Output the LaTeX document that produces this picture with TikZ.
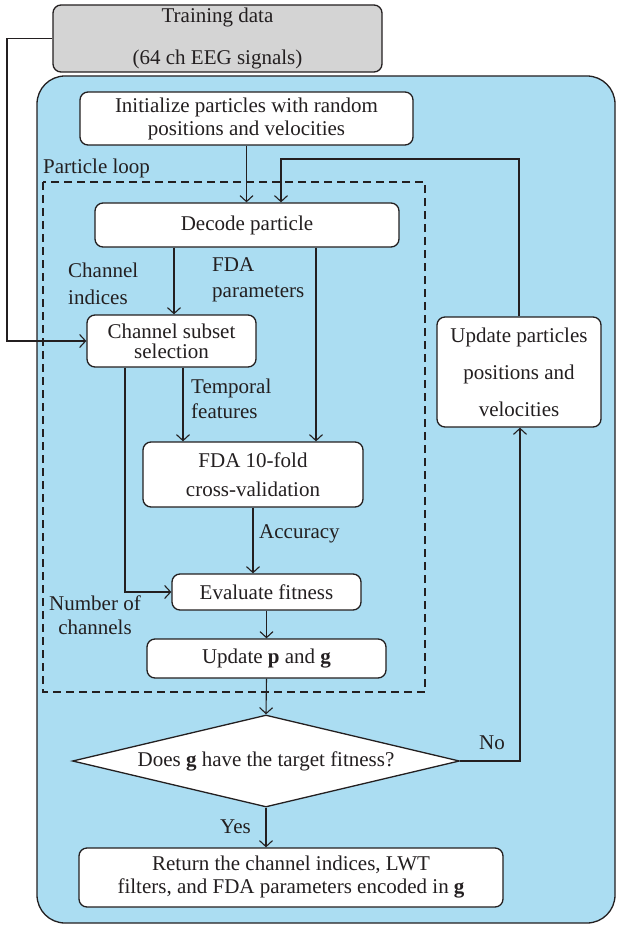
\documentclass[tikz,border=0pt]{standalone}
\usepackage{fontspec}
\setmainfont{Liberation Serif}
\usepackage{tikz}
\usetikzlibrary{arrows.meta,positioning,shapes.geometric,calc}
\definecolor{LoopBlue}{RGB}{171,221,242}
\definecolor{DataGray}{RGB}{212,212,212}
\definecolor{InkDark} {RGB}{ 35, 31, 32}

\begin{document}
\begin{tikzpicture}[x=1pt,y=-1pt,
    font=\fontsize{21}{23}\selectfont, text=InkDark,
    procbox/.style={draw=InkDark, line width=1.3pt, fill=white,
                    rounded corners=8pt, align=center, inner sep=0pt},
    flow/.style={draw=InkDark, line width=1.1pt,
                 -{Straight Barb[length=6pt,width=13pt]}},
    lbl/.style={align=left, inner sep=0pt}]
  \useasboundingbox (0,0) rectangle (616,925);
  % Outer search area
  \fill[LoopBlue, draw=InkDark, line width=1.3pt, rounded corners=28pt]
    (37,76) rectangle (615,923);
  % Particle loop frame
  \draw[InkDark, line width=1.1pt, dash pattern=on 8pt off 5pt]
    (43,182) rectangle (425,692);
  \node[lbl, anchor=west] (looplbl) at (43,168) {Particle loop};

  % Boxes
  \node[procbox, fill=DataGray, minimum width=329pt, minimum height=67pt,
        font=\fontsize{21}{42}\selectfont]
    (train) at (217.5,38.5) {Training data\\(64 ch EEG signals)};
  \node[procbox, minimum width=333pt, minimum height=53pt]
    (init) at (246.5,118.5) {Initialize particles with random\\positions and velocities};
  \node[procbox, minimum width=304pt, minimum height=44pt]
    (decode) at (247,225) {Decode particle};
  \node[procbox, minimum width=169pt, minimum height=52pt,
        font=\fontsize{21}{20}\selectfont]
    (chsel) at (171.5,341) {Channel subset\\selection};
  \node[procbox, minimum width=220pt, minimum height=65pt,
        font=\fontsize{21}{29}\selectfont]
    (fda) at (253,474.5) {FDA 10-fold\\cross-validation};
  \node[procbox, minimum width=189pt, minimum height=36pt]
    (evalf) at (266.5,592) {Evaluate fitness};
  \node[procbox, minimum width=239pt, minimum height=39pt]
    (upd) at (266.5,658.5) {Update \textbf{p} and \textbf{g}};
  \node[draw=InkDark, line width=1.3pt, fill=white, diamond, aspect=4.2,
        inner sep=0pt, minimum width=387pt, minimum height=92pt]
    (dec) at (266,761) {Does \textbf{g} have the target fitness?};
  \node[procbox, minimum width=424pt, minimum height=59pt]
    (ret) at (291,877.5) {Return the channel indices, LWT\\filters, and FDA parameters encoded in \textbf{g}};
  \node[procbox, minimum width=164pt, minimum height=110pt,
        font=\fontsize{21}{37}\selectfont]
    (updpos) at (519,372) {Update particles\\positions and\\velocities};

  % Labels
  \node[lbl, anchor=west, font=\fontsize{21}{27}\selectfont]
    (chidx) at (68,283.5) {Channel\\indices};
  \node[lbl, anchor=west, font=\fontsize{21}{26}\selectfont]
    (fdapar) at (212,280) {FDA\\parameters};
  \node[lbl, anchor=west, font=\fontsize{21}{25}\selectfont]
    (tempf) at (191,399) {Temporal\\features};
  \node[lbl, anchor=west] (acc) at (259,534) {Accuracy};
  \node[lbl, align=center, font=\fontsize{21}{24}\selectfont]
    (nch) at (95,615) {Number of\\channels};
  \node[lbl, anchor=east] (yes) at (251,827) {Yes};
  \node[lbl] (no) at (492,743) {No};

  % Connectors
  \coordinate (tl) at (7,38.5);
  \coordinate (fb) at (281,159);
  \draw[flow] (train.west) -- (tl) |- (chsel.west);
  \draw[flow] (init.south) -- (init.south |- decode.north);
  \draw[flow] (updpos.north) |- (fb) -- (fb |- decode.north);
  \draw[flow] ([xshift=-73pt]decode.south) -- ([xshift=-73pt]decode.south |- chsel.north);
  \draw[flow] ([xshift=69pt]decode.south) -- ([xshift=69pt]decode.south |- fda.north);
  \draw[flow] ([xshift=11.5pt]chsel.south) -- ([xshift=11.5pt]chsel.south |- fda.north);
  \draw[flow] ([xshift=-46.5pt]chsel.south) |- (evalf.west);
  \draw[flow] (fda.south) -- (fda.south |- evalf.north);
  \draw[flow] (evalf.south) -- (upd.north);
  \draw[flow] (upd.south) -- (dec.north);
  \draw[flow] (dec.east) -| ([xshift=1pt]updpos.south);
  \draw[flow] (dec.south) -- (dec.south |- ret.north);
\end{tikzpicture}
\end{document}
